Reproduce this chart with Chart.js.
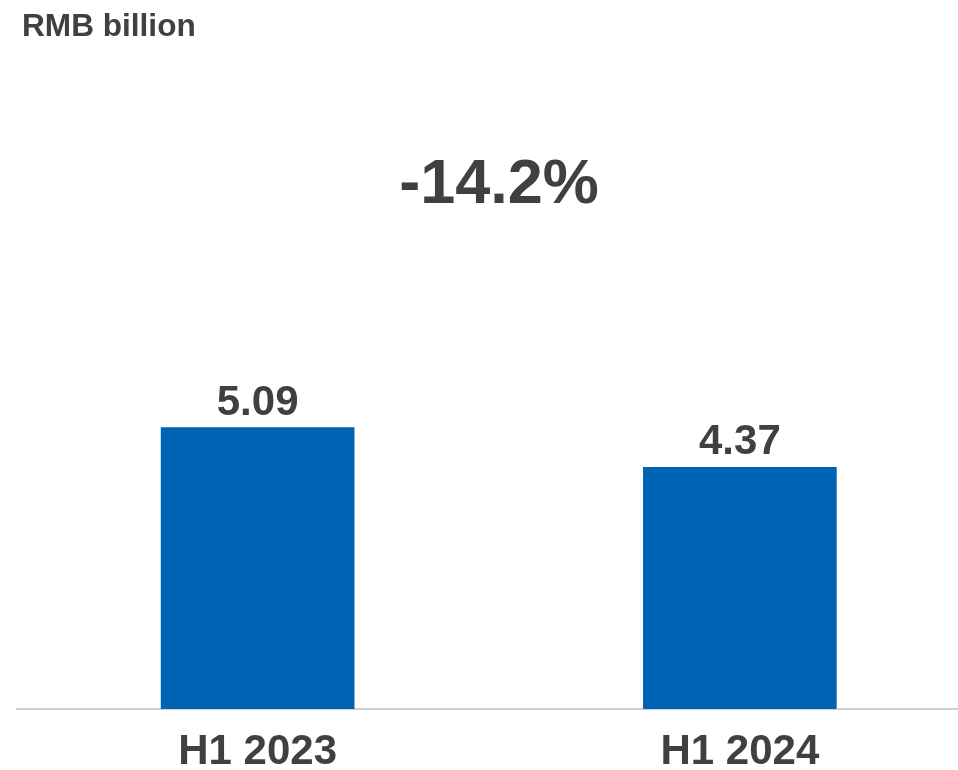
<!DOCTYPE html>
<html>
<head>
<meta charset="utf-8">
<script src="https://cdn.jsdelivr.net/npm/chart.js@4/dist/chart.umd.min.js"></script>
<style>
  html, body { margin: 0; padding: 0; background: #fff; overflow: hidden; }
  #clip { position: relative; width: 958px; height: 770px; overflow: hidden; }
  /* le canvas déborde un peu à droite pour placer les catégories comme dans l'original */
  #wrap { position: absolute; left: 0; top: 0; width: 981px; height: 770px; }
</style>
</head>
<body>
<div id="clip"><div id="wrap"><canvas id="chart"></canvas></div></div>
<script>
// Données
const categories = ["H1 2023", "H1 2024"];
const values = [5.09, 4.37];
const unitLabel = "RMB billion";
const changeLabel = "-14.2%";

const FONT = "'Liberation Sans', Arial, sans-serif";
const TEXT = "#404040";

// Plugin maison : unité, variation et valeurs au-dessus des barres
const labelsPlugin = {
  id: "labels",
  afterDatasetsDraw(chart) {
    const ctx = chart.ctx;
    ctx.save();
    ctx.fillStyle = TEXT;
    ctx.textBaseline = "alphabetic";

    ctx.font = "bold 31.6px " + FONT;
    ctx.textAlign = "left";
    ctx.fillText(unitLabel, 22, 36);

    ctx.font = "bold 63px " + FONT;
    ctx.textAlign = "center";
    ctx.fillText(changeLabel, 499, 203);

    ctx.font = "bold 42px " + FONT;
    chart.getDatasetMeta(0).data.forEach((bar, i) => {
      ctx.fillText(values[i].toFixed(2), bar.x, bar.y - 13);
    });
    ctx.restore();
  }
};

new Chart(document.getElementById("chart"), {
  type: "bar",
  data: {
    labels: categories,
    datasets: [{
      data: values,
      backgroundColor: "#0064B4",
      barThickness: 193,
      borderWidth: 0
    }]
  },
  options: {
    responsive: true,
    maintainAspectRatio: false,
    animation: false,
    layout: { padding: { top: 156, left: 16.5, right: 0, bottom: 0 } },
    plugins: { legend: { display: false }, tooltip: { enabled: false } },
    scales: {
      x: {
        grid: { display: false, drawTicks: false },
        border: { display: true, color: "#d0d0d0", width: 2 },
        afterFit: (scale) => { scale.height = 61; },
        ticks: {
          padding: 18,
          autoSkip: false,
          maxRotation: 0,
          color: TEXT,
          font: { family: FONT, size: 42, weight: "bold" }
        }
      },
      y: {
        display: false,
        min: 0,
        max: 10
      }
    }
  },
  plugins: [labelsPlugin]
});
</script>
</body>
</html>
